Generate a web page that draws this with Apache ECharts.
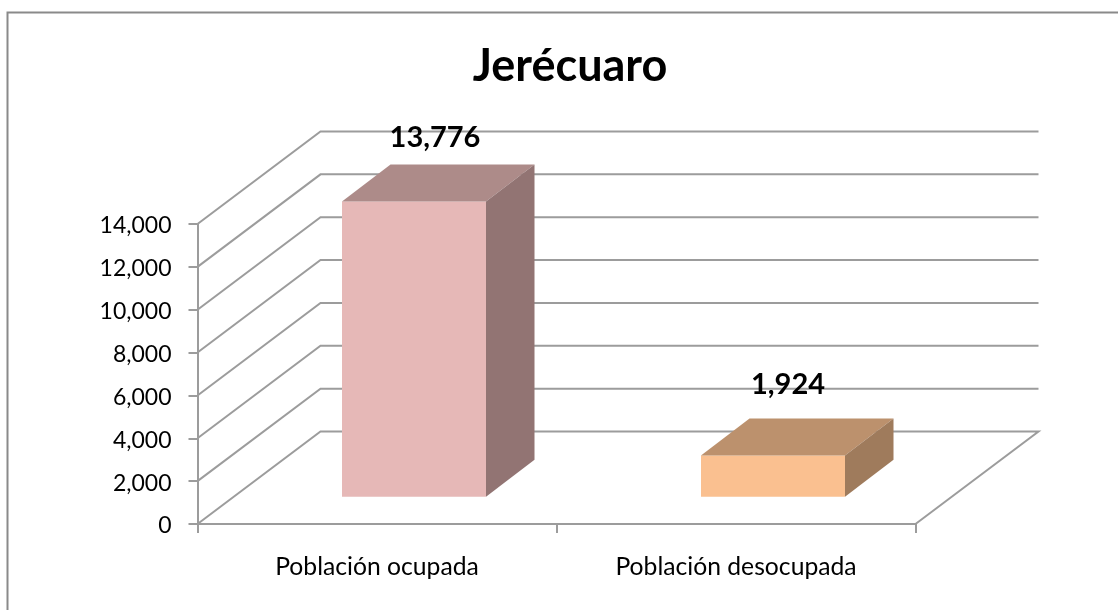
<!DOCTYPE html>
<html>
<head>
<meta charset="utf-8">
<style>
html,body{margin:0;padding:0;background:#fff;}
#chart{width:1118px;height:610px;}
</style>
<script src="https://cdn.jsdelivr.net/npm/echarts@6/dist/echarts.min.js"></script>
</head>
<body>
<div id="chart"></div>
<script>
// data
var categories = ['Población ocupada', 'Población desocupada'];
var values = [13776, 1924];
var yMax = 14000;
var yStep = 2000;
var barColors = ['#e6b8b7', '#fac090'];
var topColors = ['#ad8b89', '#bc916d'];
var sideColors = ['#927473', '#9f7b5c'];

// 3d look, pixels
var depthX = 123, depthY = 92.5;        // floor depth
var barOffX = 37, barOffY = 27.3;       // bar stands this far back from the front edge
var barDepthX = 48.5, barDepthY = 37;   // depth of the bar itself
var barWidth = 144;
var labelOffX = [21, 15];               // value label position from the bar
var labelOffY = [27, 33.5];
var lineColor = '#9c9c9c';
var fontName = 'Lato';

var myChart = echarts.init(document.getElementById('chart'));

var tickValues = [];
for (var v = 0; v <= yMax; v += yStep) tickValues.push(v);

// side wall and back wall lines
function renderWall(params, api) {
    var val = api.value(0);
    var front = api.coord([0, val]);
    var left = params.coordSys.x;
    var right = params.coordSys.x + params.coordSys.width;
    var y = front[1];
    var pts = [[left, y], [left + depthX, y - depthY], [right + depthX, y - depthY]];
    if (val === 0) pts.push([right, y]);
    return {
        type: 'polyline',
        shape: { points: pts },
        style: { stroke: lineColor, lineWidth: 2, fill: null }
    };
}

function renderBar(params, api) {
    var i = api.value(0);
    var top = api.coord([i, api.value(1)]);
    var base = api.coord([i, 0]);
    var x0 = top[0] - barWidth / 2 + barOffX;
    var x1 = x0 + barWidth;
    var yT = top[1] - barOffY;
    var yB = base[1] - barOffY;
    return {
        type: 'group',
        children: [
            { type: 'rect', shape: { x: x0, y: yT, width: barWidth, height: yB - yT },
              style: { fill: barColors[i] } },
            { type: 'polygon', shape: { points: [[x0, yT], [x0 + barDepthX, yT - barDepthY], [x1 + barDepthX, yT - barDepthY], [x1, yT]] },
              style: { fill: topColors[i] } },
            { type: 'polygon', shape: { points: [[x1, yT], [x1 + barDepthX, yT - barDepthY], [x1 + barDepthX, yB - barDepthY], [x1, yB]] },
              style: { fill: sideColors[i] } },
            { type: 'text', x: (x0 + x1) / 2 + labelOffX[i], y: yT - barDepthY - labelOffY[i],
              style: { text: echarts.format.addCommas(api.value(1)), font: 'bold 29px ' + fontName, fill: '#000', align: 'center', verticalAlign: 'middle' } }
        ]
    };
}

var option = {
    animation: false,
    backgroundColor: '#fff',
    textStyle: { fontFamily: fontName },
    title: {
        text: 'Jerécuaro',
        left: 565, top: 39, textAlign: 'center',
        textStyle: { fontFamily: fontName, fontSize: 45, fontWeight: 'bold', color: '#000' }
    },
    graphic: [{
        type: 'rect', silent: true, z: -1,
        shape: { x: 7.5, y: 12.5, width: 1140, height: 640 },
        style: { fill: 'none', stroke: '#8a8a8a', lineWidth: 2 }
    }],
    grid: { left: 197.5, top: 224, width: 718, height: 300 },
    xAxis: {
        type: 'category',
        data: categories,
        axisLine: { lineStyle: { color: lineColor, width: 2 } },
        axisTick: { show: true, length: 9, lineStyle: { color: lineColor, width: 2 } },
        axisLabel: { color: '#000', fontSize: 24.7, margin: 31, fontFamily: fontName }
    },
    yAxis: {
        type: 'value',
        min: 0, max: yMax, interval: yStep,
        axisLine: { show: true, lineStyle: { color: lineColor, width: 2 } },
        axisTick: { show: true, length: 9, lineStyle: { color: lineColor, width: 2 } },
        splitLine: { show: false },
        axisLabel: { color: '#000', fontSize: 23, margin: 26, fontFamily: fontName,
            rich: { n: { fontSize: 23, fontFamily: fontName, color: '#000', padding: [4, 0, 0, 0] } },
            formatter: function (v) { return '{n|' + echarts.format.addCommas(v) + '}'; } }
    },
    series: [
        { type: 'custom', renderItem: renderWall, data: tickValues, encode: { y: 0 }, silent: true, clip: false, z: 1 },
        { type: 'custom', renderItem: renderBar, data: values.map(function (v, i) { return [i, v]; }), encode: { x: 0, y: 1 }, clip: false, z: 2 }
    ]
};
myChart.setOption(option);
</script>
</body>
</html>
